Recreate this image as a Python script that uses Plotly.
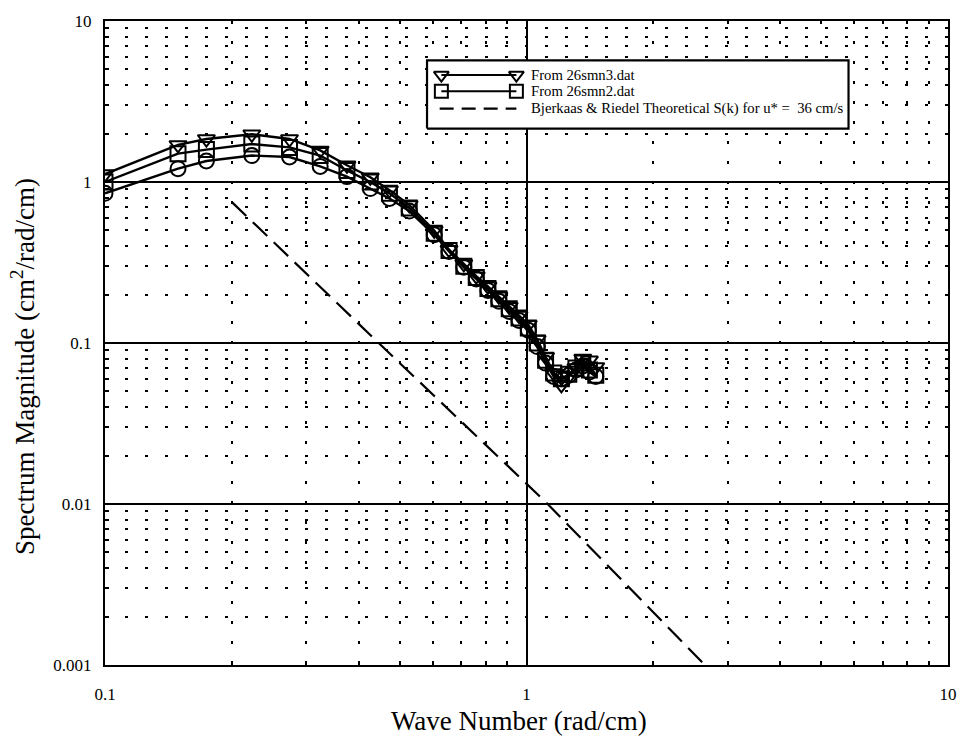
import plotly.graph_objects as go

# Wave numbers (rad/cm) shared by the measured spectra
k = [0.1, 0.149, 0.174, 0.223, 0.274, 0.324, 0.375, 0.426, 0.473, 0.527,
     0.604, 0.655, 0.71, 0.76, 0.81, 0.86, 0.91, 0.96, 1.01, 1.06,
     1.11, 1.16, 1.21, 1.26, 1.31, 1.36, 1.41, 1.46]

# Spectrum magnitude (cm^2/rad/cm)
s_smn3 = [1.12, 1.70, 1.85, 1.98, 1.85, 1.57, 1.27, 1.07, 0.89, 0.72,
          0.50, 0.38, 0.31, 0.26, 0.225, 0.195, 0.168, 0.148, 0.13, 0.105,
          0.082, 0.065, 0.055, 0.062, 0.07, 0.08, 0.078, 0.071]
s_smn2 = [1.00, 1.50, 1.59, 1.72, 1.64, 1.46, 1.18, 1.00, 0.85, 0.69,
          0.48, 0.375, 0.30, 0.255, 0.218, 0.188, 0.163, 0.143, 0.124, 0.10,
          0.078, 0.065, 0.06, 0.064, 0.07, 0.075, 0.068, 0.063]
s_third = [0.85, 1.21, 1.35, 1.46, 1.43, 1.25, 1.08, 0.91, 0.79, 0.66,
           0.47, 0.37, 0.295, 0.25, 0.212, 0.182, 0.157, 0.138, 0.12, 0.095,
           0.075, 0.062, 0.06, 0.063, 0.068, 0.072, 0.066, 0.062]

# Bjerkaas & Riedel theoretical spectrum for u* = 36 cm/s
k_theory = [0.2, 0.446, 1.11, 2.65]
s_theory = [0.75, 0.1, 0.0103, 0.001]

legend_labels = ["From 26smn3.dat", "From 26smn2.dat",
                 "Bjerkaas & Riedel Theoretical S(k) for u* =  36 cm/s"]

x_ticks = [0.1, 1, 10]
x_tick_text = ["0.1", "1", "10"]
y_ticks = [0.001, 0.01, 0.1, 1, 10]
y_tick_text = ["0.001", "0.01", "0.1", "1", "10"]

# 2..9 within each decade for the dotted minor grid
x_minor = [m * 10.0 ** e for e in (-1, 0) for m in range(2, 10)]
y_minor = [m * 10.0 ** e for e in (-3, -2, -1, 0) for m in range(2, 10)]

FONT = "Liberation Serif, Times New Roman, serif"
BLACK = "black"
DASH = "20px,9px"

fig = go.Figure()

def measured(y, symbol):
    return go.Scatter(
        x=k, y=y, mode="lines+markers", showlegend=False,
        line=dict(color=BLACK, width=2.4),
        marker=dict(symbol=symbol, size=15, color=BLACK,
                    line=dict(color=BLACK, width=2)),
    )

fig.add_trace(measured(s_third, "circle-open"))
fig.add_trace(measured(s_smn2, "square-open"))
fig.add_trace(measured(s_smn3, "triangle-down-open"))

fig.add_trace(go.Scatter(
    x=k_theory, y=s_theory, mode="lines", showlegend=False,
    line=dict(color=BLACK, width=2.2, dash=DASH),
))

# Boxed key drawn on an overlay axis spanning the plotting area (0..1)
box_x0, box_x1, box_y0, box_y1 = 0.382, 0.882, 0.833, 0.939
row_y = [0.916, 0.891, 0.864]
sample_x = [0.399, 0.488]
text_x = 0.503
key_symbols = ["triangle-down-open", "square-open"]

fig.add_trace(go.Scatter(
    x=[box_x0, box_x1, box_x1, box_x0, box_x0],
    y=[box_y0, box_y0, box_y1, box_y1, box_y0],
    xaxis="x2", yaxis="y2", mode="lines", fill="toself",
    fillcolor="white", showlegend=False, hoverinfo="skip",
    line=dict(color=BLACK, width=2.2),
))

for sym, yy in zip(key_symbols, row_y[:2]):
    fig.add_trace(go.Scatter(
        x=sample_x, y=[yy, yy], xaxis="x2", yaxis="y2", mode="lines+markers",
        showlegend=False, hoverinfo="skip", cliponaxis=False,
        line=dict(color=BLACK, width=2),
        marker=dict(symbol=sym, size=13, color=BLACK,
                    line=dict(color=BLACK, width=2)),
    ))
fig.add_trace(go.Scatter(
    x=[sample_x[0] - 0.002, sample_x[1]], y=[row_y[2], row_y[2]],
    xaxis="x2", yaxis="y2", mode="lines", showlegend=False,
    hoverinfo="skip", cliponaxis=False,
    line=dict(color=BLACK, width=2.2, dash="14px,8px"),
))

for label, yy in zip(legend_labels, row_y):
    fig.add_annotation(x=text_x, y=yy, xref="paper", yref="paper",
                       text=label, showarrow=False,
                       xanchor="left", yanchor="middle",
                       font=dict(family=FONT, size=14.7, color=BLACK))

# Axis titles
fig.add_annotation(x=0.4906, y=-0.087, xref="paper", yref="paper",
                   text="Wave Number (rad/cm)", showarrow=False,
                   xanchor="center", yanchor="middle",
                   font=dict(family=FONT, size=27, color=BLACK))
fig.add_annotation(x=-0.0976, y=0.464, xref="paper", yref="paper",
                   text="Spectrum Magnitude (cm<sup>2</sup>/rad/cm)",
                   showarrow=False, textangle=-90,
                   xanchor="center", yanchor="middle",
                   font=dict(family=FONT, size=27, color=BLACK))

def log_axis(minor_vals):
    return dict(
        type="log", showline=True, linecolor=BLACK, linewidth=2.4, mirror=True,
        showgrid=True, gridcolor=BLACK, gridwidth=1.8,
        ticks="", tickfont=dict(family=FONT, size=17, color=BLACK),
        zeroline=False,
        minor=dict(tickmode="array", tickvals=minor_vals,
                   showgrid=True, gridcolor=BLACK, gridwidth=1.8,
                   griddash="3px,17px", ticks="inside", ticklen=4,
                   tickcolor=BLACK, tickwidth=1.5),
    )

fig.update_layout(
    width=969, height=748,
    margin=dict(l=105, r=14, t=12, b=83),
    paper_bgcolor="white", plot_bgcolor="white",
    font=dict(family=FONT, color=BLACK),
    xaxis=dict(log_axis(x_minor), range=[-1, 1], tickvals=x_ticks,
               ticktext=x_tick_text, ticklabelstandoff=12),
    yaxis=dict(log_axis(y_minor), range=[-3, 1], tickvals=y_ticks,
               ticktext=y_tick_text, ticklabelstandoff=8),
    xaxis2=dict(overlaying="x", range=[0, 1], visible=False, domain=[0, 1]),
    yaxis2=dict(overlaying="y", range=[0, 1], visible=False, domain=[0, 1]),
)

fig.write_html("out.html")
